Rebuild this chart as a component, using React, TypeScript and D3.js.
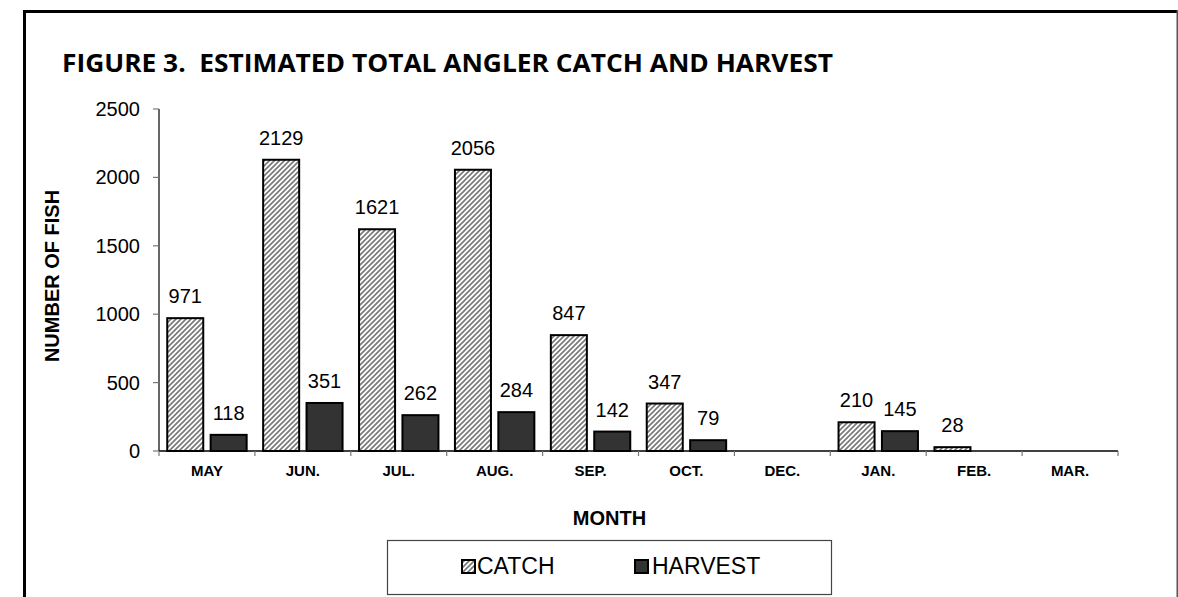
import React from "react";
import * as d3 from "d3";

const months = ["MAY", "JUN.", "JUL.", "AUG.", "SEP.", "OCT.", "DEC.", "JAN.", "FEB.", "MAR."];
const catchValues: (number | null)[] = [971, 2129, 1621, 2056, 847, 347, null, 210, 28, null];
const harvestValues: (number | null)[] = [118, 351, 262, 284, 142, 79, null, 145, null, null];
const seriesNames = ["CATCH", "HARVEST"];
const yTicks = [0, 500, 1000, 1500, 2000, 2500];

const W = 1178;
const H = 597;
const left = 159;
const right = 1118;
const top = 109;
const bottom = 451;

export default function App() {
  const x = d3.scaleBand<string>().domain(months).range([left, right]).paddingInner(0).paddingOuter(0);
  const xi = d3
    .scaleBand<string>()
    .domain(seriesNames)
    .range([0, x.bandwidth()])
    .paddingInner(0.17)
    .paddingOuter(0.19);
  const y = d3.scaleLinear().domain([0, 2500]).range([bottom, top]);

  const series = [
    { name: "CATCH", values: catchValues, fill: "url(#hatch)" },
    { name: "HARVEST", values: harvestValues, fill: "#333333" },
  ];

  const boundaries = months.map((m) => x(m)!).concat([right]);

  return (
    <svg
      width={W}
      height={H}
      style={{ position: "absolute", left: 0, top: 0, background: "#fff" }}
      fontFamily="Arial, 'Liberation Sans', sans-serif"
    >
      <defs>
        <pattern id="hatch" patternUnits="userSpaceOnUse" width={5} height={5}>
          <rect width={5} height={5} fill="#ffffff" />
          <path d="M0,5 L5,0 M-1,1 L1,-1 M4,6 L6,4" stroke="#7a7a7a" strokeWidth={1.7} />
        </pattern>
      </defs>
      <rect x={0} y={0} width={W} height={H} fill="#fff" />
      {/* outer frame */}
      <rect x={23} y={10} width={W - 23} height={3} fill="#000" />
      <rect x={23} y={10} width={3} height={H - 10} fill="#000" />
      <rect x={1176.5} y={10} width={1.5} height={H - 10} fill="#555" />

      {/* title */}
      <text
        x={62}
        y={72}
        fontFamily="'Open Sans', 'Noto Sans', sans-serif"
        fontWeight="bold"
        fontSize={25.5}
        textLength={771}
        lengthAdjust="spacingAndGlyphs"
        fill="#000"
        style={{ whiteSpace: "pre" }}
      >
        {"FIGURE 3.  ESTIMATED TOTAL ANGLER CATCH AND HARVEST"}
      </text>

      {/* y axis */}
      <line x1={left} x2={left} y1={top} y2={bottom} stroke="#000" strokeWidth={1.2} />
      {yTicks.map((t) => (
        <g key={t}>
          <line x1={left - 6} x2={left} y1={y(t)} y2={y(t)} stroke="#777" strokeWidth={1.2} />
          <text x={140} y={y(t) + 7} textAnchor="end" fontSize={20} fill="#000">
            {t}
          </text>
        </g>
      ))}
      <text
        transform={`translate(59,276) rotate(-90)`}
        textAnchor="middle"
        fontSize={20}
        fontWeight="bold"
        fill="#000"
      >
        NUMBER OF FISH
      </text>

      {/* bars */}
      {series.map((s) =>
        months.map((m, i) => {
          const v = s.values[i];
          if (v === null) return null;
          const bx = x(m)! + xi(s.name)!;
          const bw = xi.bandwidth();
          return (
            <g key={s.name + m}>
              <rect
                x={bx}
                y={y(v)}
                width={bw}
                height={bottom - y(v)}
                fill={s.fill}
                stroke="#000"
                strokeWidth={2}
              />
              <text x={bx + bw / 2} y={y(v) - 15} textAnchor="middle" fontSize={20} fill="#000">
                {v}
              </text>
            </g>
          );
        })
      )}

      {/* x axis */}
      <line x1={left} x2={right} y1={bottom} y2={bottom} stroke="#000" strokeWidth={1.5} />
      {boundaries.map((b, i) => (
        <line key={i} x1={b} x2={b} y1={bottom} y2={bottom + 5} stroke="#777" strokeWidth={1.2} />
      ))}
      {months.map((m) => (
        <text
          key={m}
          x={x(m)! + x.bandwidth() / 2}
          y={476}
          textAnchor="middle"
          fontSize={15}
          fontWeight="bold"
          fill="#000"
        >
          {m}
        </text>
      ))}
      <text x={609.5} y={525} textAnchor="middle" fontSize={20} fontWeight="bold" fill="#000">
        MONTH
      </text>

      {/* legend */}
      <rect x={387.5} y={540.5} width={444} height={54} fill="#fff" stroke="#444" strokeWidth={1.2} />
      <rect x={462} y={560} width={13} height={13} fill="url(#hatch)" stroke="#000" strokeWidth={2} />
      <text x={477} y={574} fontSize={23} fill="#000">
        CATCH
      </text>
      <rect x={635} y={560} width={13} height={13} fill="#333" stroke="#000" strokeWidth={2} />
      <text x={652} y={574} fontSize={23} fill="#000">
        HARVEST
      </text>
    </svg>
  );
}
